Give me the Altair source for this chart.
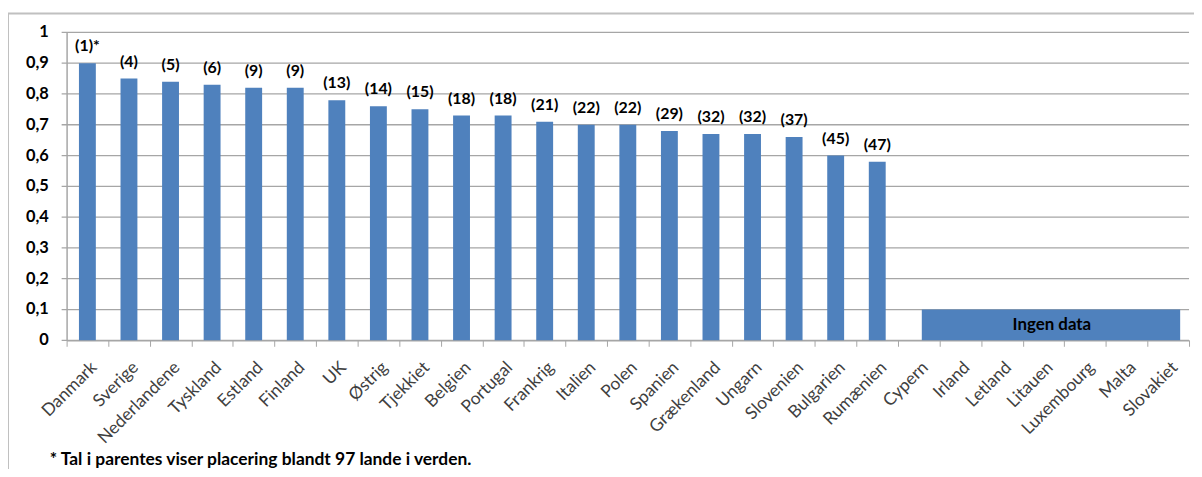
import altair as alt
import pandas as pd

countries = ["Danmark", "Sverige", "Nederlandene", "Tyskland", "Estland", "Finland", "UK",
             "Østrig", "Tjekkiet", "Belgien", "Portugal", "Frankrig", "Italien", "Polen",
             "Spanien", "Grækenland", "Ungarn", "Slovenien", "Bulgarien", "Rumænien",
             "Cypern", "Irland", "Letland", "Litauen", "Luxembourg", "Malta", "Slovakiet"]
values = [0.90, 0.85, 0.84, 0.83, 0.82, 0.82, 0.78, 0.76, 0.75, 0.73, 0.73, 0.71, 0.70,
          0.70, 0.68, 0.67, 0.67, 0.66, 0.60, 0.58]
ranks = ["(1)*", "(4)", "(5)", "(6)", "(9)", "(9)", "(13)", "(14)", "(15)", "(18)", "(18)",
         "(21)", "(22)", "(22)", "(29)", "(32)", "(32)", "(37)", "(45)", "(47)"]
nodata_start = ["Cypern"]
nodata_end = ["Slovakiet"]
nodata_value = [0.1]
nodata_label = ["Ingen data"]
footnote = "* Tal i parentes viser placering blandt 97 lande i verden."
y_ticks = [0, 0.1, 0.2, 0.3, 0.4, 0.5, 0.6, 0.7, 0.8, 0.9, 1]
y_tick_labels = ["0", "0,1", "0,2", "0,3", "0,4", "0,5", "0,6", "0,7", "0,8", "0,9", "1"]

df = pd.DataFrame({"land": countries[:len(values)], "v": values, "rank": ranks})
nd = pd.DataFrame({"start": nodata_start, "end": nodata_end, "v": nodata_value,
                   "label": nodata_label, "pos": ["Litauen"]})
nd["mid"] = nd["v"] / 2
ticks_df = pd.DataFrame({"v": y_ticks, "lab": y_tick_labels})
fn = pd.DataFrame({"t": [footnote]})

BLUE = "#4f81bd"
FONT = "Lato"
GRID = "#a6a6a6"

xscale = alt.Scale(domain=countries, paddingInner=0, paddingOuter=0)
yscale = alt.Scale(domain=[0, 1])

xaxis = alt.Axis(title=None, labelAngle=-45, labelFont=FONT, labelFontSize=17.5,
                 labelColor="#404040", tickBand="extent", tickColor=GRID, tickSize=6,
                 domainColor=GRID, domainWidth=1.5, labelPadding=12, grid=False,
                 labelOverlap=False)
yaxis = alt.Axis(title=None, grid=False, labels=False, ticks=False,
                 domainColor=GRID, domainWidth=1.5)

X = lambda f, **kw: alt.X(f, scale=xscale, axis=xaxis, sort=countries, **kw)
Y = lambda f: alt.Y(f, scale=yscale, axis=yaxis)

grid = alt.Chart(ticks_df).mark_rule(color=GRID, strokeWidth=1.3).encode(
    x=alt.value(-5), x2=alt.value(1130), y=Y("v:Q"))

ylabels = alt.Chart(ticks_df).mark_text(font=FONT, fontSize=16.5, fontWeight="bold",
                                        color="#000000", align="right",
                                        baseline="middle").encode(
    x=alt.value(-18), y=Y("v:Q"), text="lab:N")

bars = alt.Chart(df).mark_bar(color=BLUE, size=17).encode(
    x=X("land:N"),
    y=Y("v:Q"),
)

labels = alt.Chart(df).mark_text(font=FONT, fontSize=16, fontWeight="bold",
                                 color="#000000", baseline="alphabetic", dy=-12).encode(
    x=X("land:N"),
    y=Y("v:Q"),
    text="rank:N",
)

nodata_rect = alt.Chart(nd).mark_rect(color=BLUE, xOffset=3, x2Offset=12).encode(
    x=X("start:N", bandPosition=0.5),
    x2=alt.X2("end"),
    y=Y("v:Q"),
    y2=alt.datum(0),
)

nodata_text = alt.Chart(nd).mark_text(
    font=FONT, fontSize=17, fontWeight="bold", color="#000000", baseline="middle"
).encode(
    x=X("pos:N", bandPosition=0.7),
    y=Y("mid:Q"),
    text="label:N",
)

foot = alt.Chart(fn).mark_text(font=FONT, fontSize=17.5, fontWeight="bold", color="#000000",
                               align="left", baseline="middle").encode(
    x=alt.value(-17), y=alt.value(431), text="t:N")

frame = alt.Chart(fn).mark_rect(fill="transparent", stroke="#c0c0c0", strokeWidth=2).encode(
    x=alt.value(-59), y=alt.value(-19), x2=alt.value(1200), y2=alt.value(520))

chart = alt.layer(frame, grid, bars, nodata_rect, labels, nodata_text, ylabels, foot).properties(
    width=1130, height=310,
    padding={"left": 59, "top": 23, "right": 5, "bottom": 128},
    autosize=alt.AutoSizeParams(type="none"),
).configure_view(stroke="transparent")

chart.save("out.html", embed_options={"renderer": "svg", "actions": False})
